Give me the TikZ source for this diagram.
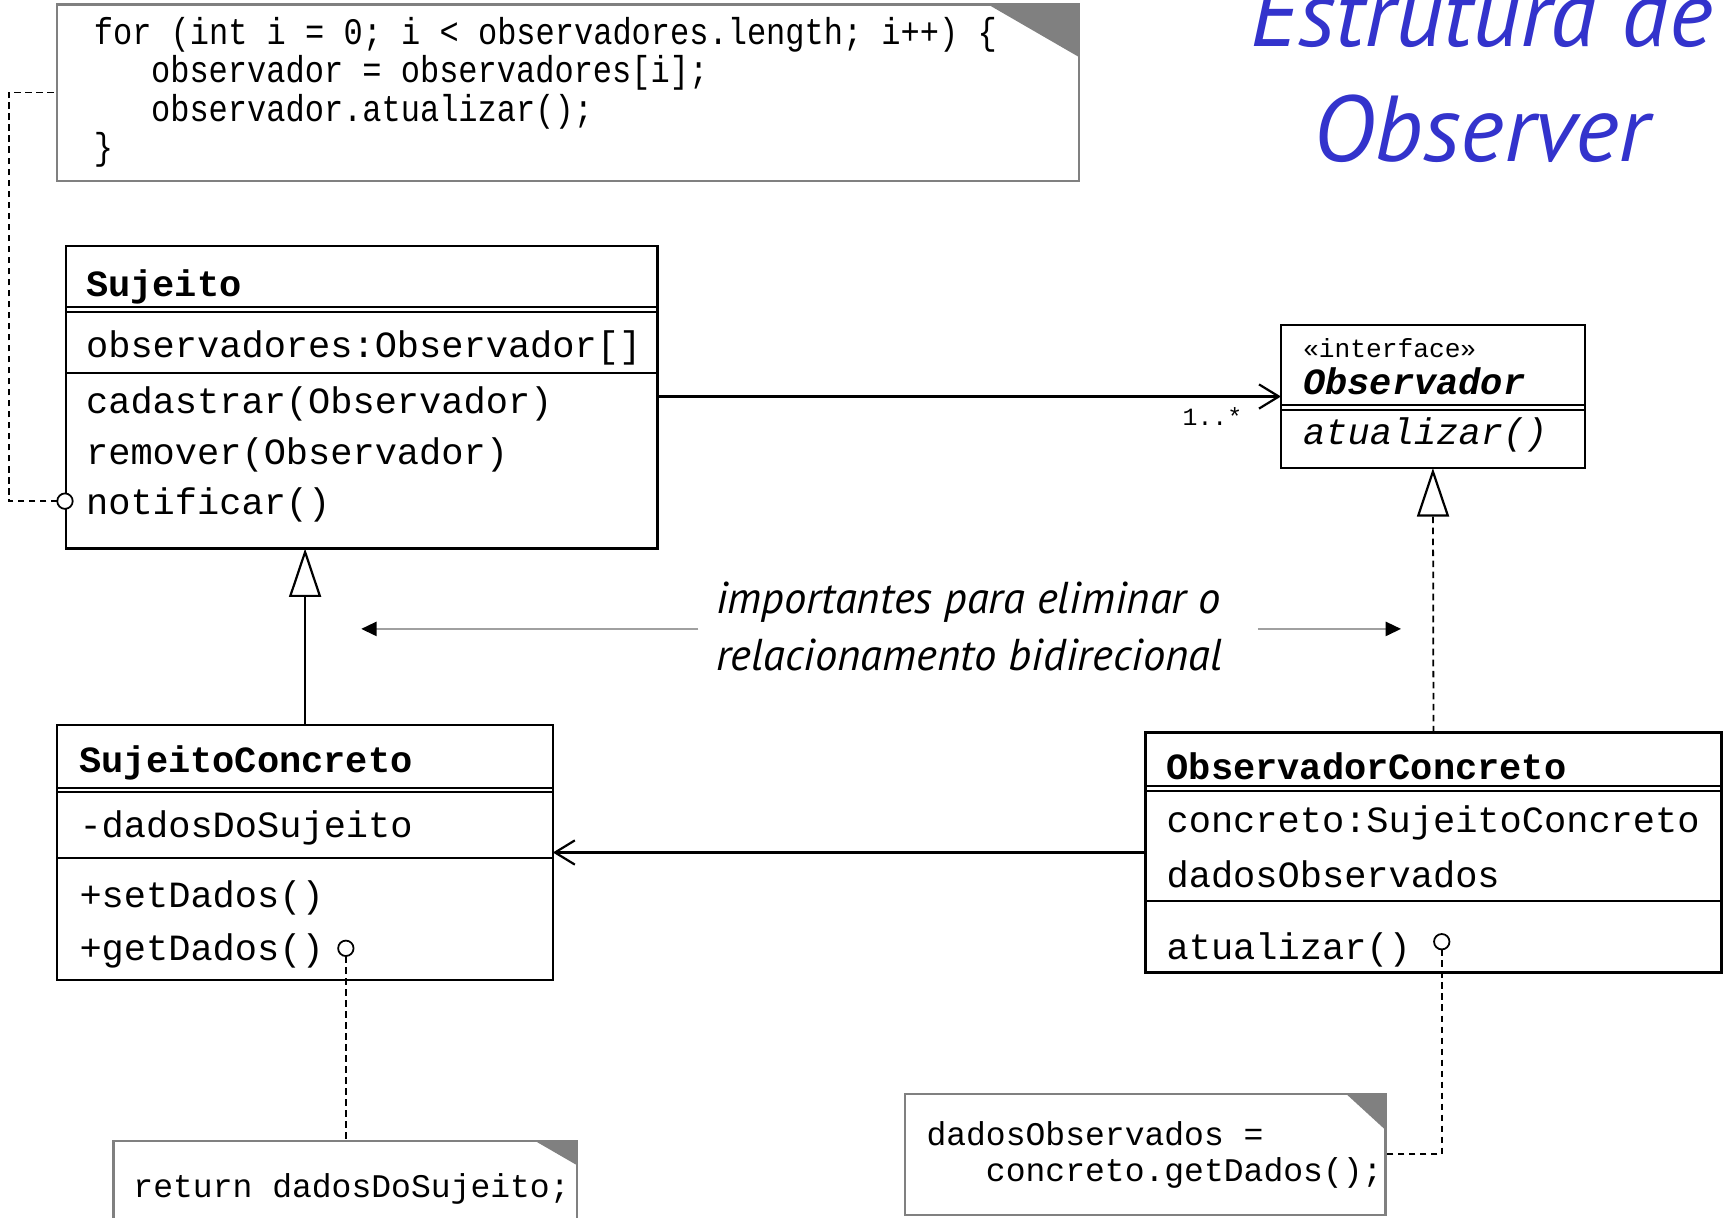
\documentclass[tikz,border=0pt]{standalone}
\usepackage{fontspec}
\usepackage{graphicx}
\setmonofont{Liberation Mono}
\newfontfamily\condmono{Liberation Mono}[FakeStretch=0.855]
\newfontfamily\gillfont{PT Sans}
\usetikzlibrary{arrows.meta}
\definecolor{titleblue}{RGB}{51,51,204}
\definecolor{notegray}{RGB}{128,128,128}
\definecolor{hintgray}{RGB}{160,160,160}
\begin{document}
\begin{tikzpicture}[x=1pt,y=-1pt,
  box/.style={draw=black,line width=2pt,anchor=north west,inner sep=0pt,outer sep=0pt,fill=white},
  note/.style={draw=notegray,line width=2pt,anchor=north west,inner sep=0pt,outer sep=0pt,fill=white},
  sepline/.style={line width=2pt},
  dsep/.style={line width=1.8pt},
  mono/.style={inner sep=0pt,anchor=base west,font=\fontsize{33.6}{40}\selectfont\ttfamily},
  monob/.style={inner sep=0pt,anchor=base west,font=\fontsize{33.6}{40}\selectfont\ttfamily\bfseries},
  small/.style={inner sep=0pt,anchor=base west,font=\fontsize{23.8}{28}\selectfont\ttfamily},
  mult/.style={inner sep=0pt,anchor=base east,font=\fontsize{22.5}{26}\selectfont\ttfamily},
  code/.style={inner sep=0pt,anchor=base west,font=\fontsize{34}{40}\selectfont\condmono},
  code2/.style={inner sep=0pt,anchor=base west,font=\fontsize{30}{36}\selectfont\ttfamily},
  titletext/.style={inner sep=0pt,anchor=base,text=titleblue,font=\fontsize{85}{100}\selectfont\gillfont\itshape},
  hinttext/.style={inner sep=0pt,anchor=base west,font=\fontsize{40.5}{46}\selectfont\gillfont\itshape},
  assoc/.style={line width=2pt,-{Straight Barb[length=18pt,width=22pt]}},
  gen/.style={line width=2pt,-{Triangle[open,length=44pt,width=29pt]}},
  real/.style={line width=1.6pt,dash pattern=on 6pt off 4pt,-{Triangle[open,length=44pt,width=29pt,line width=2pt]}},
  dline/.style={line width=1.6pt,dash pattern=on 6pt off 4pt},
  hint/.style={draw=hintgray,line width=1.6pt,-{Triangle[length=14pt,width=13pt,color=black]}},
  lolly/.style={circle,draw=black,line width=1.6pt,fill=white,minimum size=14pt,inner sep=0pt,outer sep=0pt}
]
\path[use as bounding box] (0,0) rectangle (1568,1105);
\clip (0,0) rectangle (1568,1105);
\fill[white] (0,0) rectangle (1568,1105);

% title
\node[titletext] (t1) at (1345,42) {Estrutura de};
\node[titletext] (t2) at (1345,147) {Observer};

% note 1
\node[note,minimum width=928pt,minimum height=160pt] (note1) at (52,4) {};
\fill[notegray] ([xshift=-83pt]note1.north east) -- (note1.north east) -- ([yshift=-48pt]note1.north east) -- cycle;
\node[code] (n1a) at (85,40) {for (int i = 0; i < observadores.length; i++) \{};
\node[code] (n1b) at (137,75) {observador = observadores[i];};
\node[code] (n1c) at (137,110) {observador.atualizar();};
\node[code] (n1d) at (85,145) {\}};

% note 2
\node[note,minimum width=421pt,minimum height=100pt] (note2) at (103,1036) {};
\fill[notegray] ([xshift=-38pt]note2.north east) -- (note2.north east) -- ([yshift=-22pt]note2.north east) -- cycle;
\node[code2] (n2a) at (121,1087) {return dadosDoSujeito;};

% note 3
\node[note,minimum width=436pt,minimum height=110pt] (note3) at (822,993) {};
\fill[notegray] ([xshift=-36pt]note3.north east) -- (note3.north east) -- ([yshift=-33pt]note3.north east) -- cycle;
\node[code2] (n3a) at (841,1040) {dadosObservados =};
\node[code2] (n3b) at (895,1073) {concreto.getDados();};

% Sujeito
\node[box,minimum width=537pt,minimum height=275pt] (suj) at (60,223) {};
\draw[dsep] (suj.west |- 0,278.5) -- (suj.east |- 0,278.5);
\draw[dsep] (suj.west |- 0,283) -- (suj.east |- 0,283);
\draw[sepline] (suj.west |- 0,339) -- (suj.east |- 0,339);
\node[monob] (s1) at (78,269) {Sujeito};
\node[mono] (s2) at (78,325) {observadores:Observador[]};
\node[mono] (s3) at (78,375) {cadastrar(Observador)};
\node[mono] (s4) at (78,422) {remover(Observador)};
\node[mono] (s5) at (78,467) {notificar()};

% Observador
\node[box,minimum width=276pt,minimum height=130pt] (obs) at (1163,295) {};
\draw[dsep] (obs.west |- 0,368) -- (obs.east |- 0,368);
\draw[dsep] (obs.west |- 0,372.5) -- (obs.east |- 0,372.5);
\node[small] (o1) at (1183,325) {«interface»};
\node[monob,font=\fontsize{33.6}{40}\selectfont\ttfamily\bfseries\itshape] (o2) at (1183,358) {Observador};
\node[mono,font=\fontsize{33.6}{40}\selectfont\ttfamily\itshape] (o3) at (1183,404) {atualizar()};

% SujeitoConcreto
\node[box,minimum width=450pt,minimum height=232pt] (sc) at (52,658) {};
\draw[dsep] (sc.west |- 0,715) -- (sc.east |- 0,715);
\draw[dsep] (sc.west |- 0,719.5) -- (sc.east |- 0,719.5);
\draw[sepline] (sc.west |- 0,779) -- (sc.east |- 0,779);
\node[monob] (sc1) at (72,701) {SujeitoConcreto};
\node[mono] (sc2) at (72,760) {-dadosDoSujeito};
\node[mono] (sc3) at (72,824) {+setDados()};
\node[mono] (sc4) at (72,872) {+getDados()};

% ObservadorConcreto
\node[box,minimum width=523pt,minimum height=218pt] (obsc) at (1040,665) {};
\draw[dsep] (obsc.west |- 0,714) -- (obsc.east |- 0,714);
\draw[dsep] (obsc.west |- 0,718.5) -- (obsc.east |- 0,718.5);
\draw[sepline] (obsc.west |- 0,818) -- (obsc.east |- 0,818);
\node[monob] (oc1) at (1059,708) {ObservadorConcreto};
\node[mono] (oc2) at (1059,756) {concreto:SujeitoConcreto};
\node[mono] (oc3) at (1059,806) {dadosObservados};
\node[mono] (oc4) at (1059,871) {atualizar()};

% connectors
\draw[assoc] (suj.east |- obs.west) -- (obs.west);
\node[mult] (m1) at (1128,386) {1..*};
\draw[gen] (sc.north) -- (sc.north |- suj.south);
\draw[real] (obsc.north) -- (obs.south);
\draw[assoc] (obsc.west) -- (sc.east |- obsc.west);

% hint
\node[hinttext] (h1) at (650,557) {importantes para eliminar o};
\node[hinttext] (h2) at (650,609) {relacionamento bidirecional};
\coordinate (ga1) at (634,571);
\coordinate (ga2) at (328,571);
\coordinate (gb1) at (1142,571);
\coordinate (gb2) at (1272,571);
\draw[hint] (ga1) -- (ga2);
\draw[hint] (gb1) -- (gb2);

% lollipops and note links
\node[lolly] (c1) at (59,455) {};
\node[lolly] (c2) at (314,861) {};
\node[lolly] (c3) at (1309,855) {};
\coordinate (k1) at (8,455);
\coordinate (k2) at (8,84);
\coordinate (k3) at (1309,1048);
\draw[dline] (c1.west) -- (k1) -- (k2) -- (k2 -| note1.west);
\draw[dline] (c2.south) -- (c2.south |- note2.north);
\draw[dline] (c3.south) -- (k3) -- (k3 -| note3.east);
\end{tikzpicture}
\end{document}
